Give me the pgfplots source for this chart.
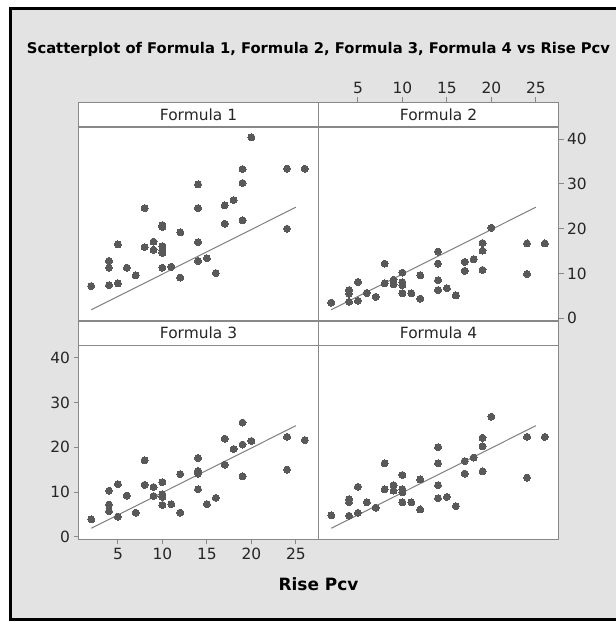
\documentclass[border=0pt]{standalone}
\usepackage{pgfplots}
\pgfplotsset{compat=1.18}
\usepackage{fontspec}
\setmainfont{DejaVu Sans}
\definecolor{bg}{HTML}{E3E3E3}
\definecolor{frame}{HTML}{888888}
\definecolor{dot}{HTML}{595959}
\definecolor{fit}{HTML}{7F7F7F}
\definecolor{txt}{HTML}{262626}
\pgfplotsset{panel/.style={
  scale only axis, width=240bp, height=218.5bp,
  xmin=0.57, xmax=27.54, ymin=-0.6, ymax=48.17,
  axis background/.style={fill=white},
  axis line style={frame, line width=1.2bp},
  tick style={frame, line width=1bp},
  major tick length=5bp, tick align=outside,
  xtick={5,10,15,20,25}, ytick={0,10,20,30,40},
  ticklabel style={font=\fontsize{15.5}{15.5}\selectfont, text=txt},
  /pgf/number format/assume math mode=true,
  anchor=south west, clip=true,
},
dots/.style={only marks, color=dot, mark=*, mark size=3.5bp, mark options={fill=dot, draw=dot, line width=0pt}},
fitline/.style={no marks, fit, line width=1bp}}
\newcommand{\strip}[1]{%
  \draw[frame, line width=1.2bp] (axis cs:0.57,42.7) -- (axis cs:27.54,42.7);
  \node[font=\fontsize{15.5}{15.5}\selectfont, text=txt] at (axis cs:14.055,45.45) {#1};}
\begin{document}
\begin{tikzpicture}
\useasboundingbox (0,0) rectangle (616bp,622bp);
\fill[white] (0,0) rectangle (616bp,622bp);
\fill[bg] (10bp,2bp) rectangle (616bp,614bp);
\draw[black, line width=3.5bp] (616bp,613.5bp) -- (10.5bp,613.5bp) -- (10.5bp,2.5bp) -- (616bp,2.5bp);
\node[font=\bfseries\fontsize{14.8}{14.8}\selectfont, text=black] at (318.5bp,573bp) {Scatterplot of Formula 1, Formula 2, Formula 3, Formula 4 vs Rise Pcv};
\node[font=\bfseries\fontsize{17}{17}\selectfont, text=black] at (318.5bp,38bp) {Rise Pcv};
% Formula 1
\begin{axis}[panel, at={(78.5bp,301bp)}, xtick=\empty, ytick=\empty]
\addplot[dots] coordinates {(2,7.2)(4,7.4)(5,7.8)(4,11.3)(4,12.8)(5,16.5)(6,11.3)(7,9.6)(8,24.6)(8,15.9)(9,17.1)(9,15.3)(10,20.8)(10,20.4)(10,16.1)(10,15.2)(10,14.6)(10,11.3)(11,11.5)(12,19.2)(12,9.1)(14,29.9)(14,24.6)(14,17.0)(14,12.8)(15,13.4)(16,10.1)(17,25.2)(17,21.1)(18,26.4)(19,33.3)(19,30.2)(19,21.9)(20,40.4)(24,33.4)(24,20.0)(26,33.4)};
\addplot[fitline] coordinates {(2,1.9)(25,24.8)};
\strip{Formula 1}
\end{axis}
% Formula 2
\begin{axis}[panel, at={(318.5bp,301bp)}, xtick pos=right, ytick pos=right, xticklabel pos=right, yticklabel pos=right]
\addplot[dots] coordinates {(2,3.5)(4,3.7)(4,5.5)(4,6.3)(5,3.9)(5,8.1)(6,5.65)(7,4.8)(8,12.2)(8,7.8)(9,8.6)(9,7.6)(10,10.2)(10,8.0)(10,7.4)(10,5.6)(11,5.6)(12,9.6)(12,4.4)(14,14.9)(14,12.2)(14,8.5)(14,6.3)(15,6.7)(16,5.1)(17,12.6)(17,10.6)(18,13.2)(19,16.8)(19,15.1)(19,10.8)(20,20.2)(24,16.7)(24,9.9)(26,16.7)};
\addplot[fitline] coordinates {(2,1.9)(25,24.8)};
\strip{Formula 2}
\end{axis}
% Formula 3
\begin{axis}[panel, at={(78.5bp,82.5bp)}, xtick pos=left, ytick pos=left, xticklabel pos=left, yticklabel pos=left]
\addplot[dots] coordinates {(2,3.9)(4,10.3)(4,7.2)(4,5.7)(5,11.75)(5,4.5)(6,9.2)(7,5.4)(8,17.1)(8,11.6)(9,11.1)(9,9.1)(10,12.2)(10,9.45)(10,8.9)(10,7.1)(11,7.3)(12,14.0)(12,5.4)(14,17.6)(14,14.7)(14,14.1)(14,10.6)(15,7.3)(16,8.7)(17,21.9)(17,16.1)(18,19.6)(19,25.5)(19,20.6)(19,13.5)(20,21.4)(24,22.3)(24,15.0)(26,21.6)};
\addplot[fitline] coordinates {(2,1.9)(25,24.8)};
\strip{Formula 3}
\end{axis}
% Formula 4
\begin{axis}[panel, at={(318.5bp,82.5bp)}, xtick=\empty, ytick=\empty]
\addplot[dots] coordinates {(2,4.8)(4,4.7)(4,7.7)(4,8.4)(5,5.35)(5,11.15)(6,7.7)(7,6.5)(8,16.4)(8,10.6)(9,11.5)(9,10.3)(10,13.8)(10,10.6)(10,9.9)(10,7.7)(11,7.7)(12,12.8)(12,6.1)(14,20.0)(14,16.4)(14,11.5)(14,8.6)(15,8.9)(16,6.85)(17,16.9)(17,14.1)(18,17.7)(19,22.1)(19,20.2)(19,14.6)(20,26.8)(24,22.3)(24,13.2)(26,22.3)};
\addplot[fitline] coordinates {(2,1.9)(25,24.8)};
\strip{Formula 4}
\end{axis}
\end{tikzpicture}
\end{document}
